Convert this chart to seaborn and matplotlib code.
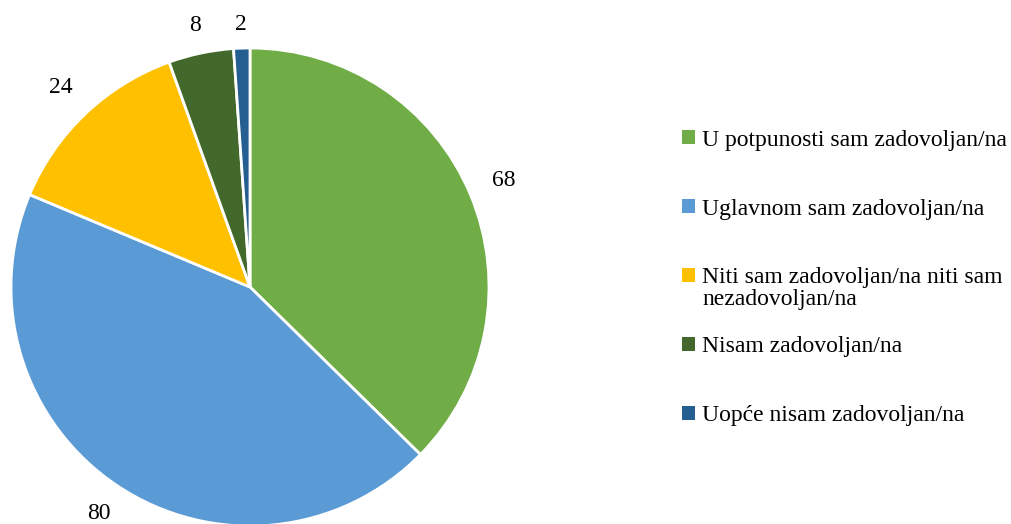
import numpy as np
import matplotlib
matplotlib.use("Agg")
import matplotlib.pyplot as plt
from matplotlib.patches import Patch
import seaborn as sns

sns.set_theme(style="white")
plt.rcParams['font.family'] = ['Liberation Serif', 'DejaVu Serif']
plt.rcParams['text.color'] = 'black'

# data
categories = [
    "U potpunosti sam zadovoljan/na",
    "Uglavnom sam zadovoljan/na",
    "Niti sam zadovoljan/na niti sam",
    "Nisam zadovoljan/na",
    "Uopće nisam zadovoljan/na",
]
second_line = "nezadovoljan/na"
values = [68, 80, 24, 8, 2]
colors = sns.color_palette(["#70AD47", "#5B9BD5", "#FFC000", "#43682B", "#255E91"])

fig = plt.figure(figsize=(10.11, 5.24), dpi=100)
ax = fig.add_axes([0, 0, 1, 1])

cx, cy, r = 250, 237, 239
wedges, texts = ax.pie(values, labels=[str(v) for v in values], colors=colors,
                       startangle=90, counterclock=False,
                       center=(cx, cy), radius=r, labeldistance=1.15,
                       wedgeprops=dict(edgecolor="white", linewidth=2.0),
                       textprops=dict(fontsize=17, color="black"))

# small slices get their labels a little closer to the edge (like Excel)
label_dist = [1.15, 1.14, 1.15, 1.12, 1.10]
for w, t, d in zip(wedges, texts, label_dist):
    ang = np.deg2rad((w.theta1 + w.theta2) / 2)
    t.set_position((cx + d * r * np.cos(ang), cy + d * r * np.sin(ang)))
    t.set_ha("center")

ax.set_xlim(0, 1011)
ax.set_ylim(0, 524)
ax.set_aspect("equal")
ax.axis("off")

handles = [Patch(facecolor=c, edgecolor="none") for c in colors]
leg = fig.legend(handles, categories, loc="center left",
                 bbox_to_anchor=(682 / 1011, 1 - 278 / 524),
                 frameon=False, fontsize=17, borderpad=0, borderaxespad=0,
                 handlelength=0.55, handleheight=0.55, handletextpad=0.3,
                 labelspacing=2.03)

# second line of the third legend entry
fig.canvas.draw()
bb = leg.get_texts()[2].get_window_extent()
fig.text(bb.x0, bb.y0 - 22, second_line, fontsize=17, ha="left", va="bottom",
         transform=None)

plt.savefig("out.png", dpi=100)
plt.close()
